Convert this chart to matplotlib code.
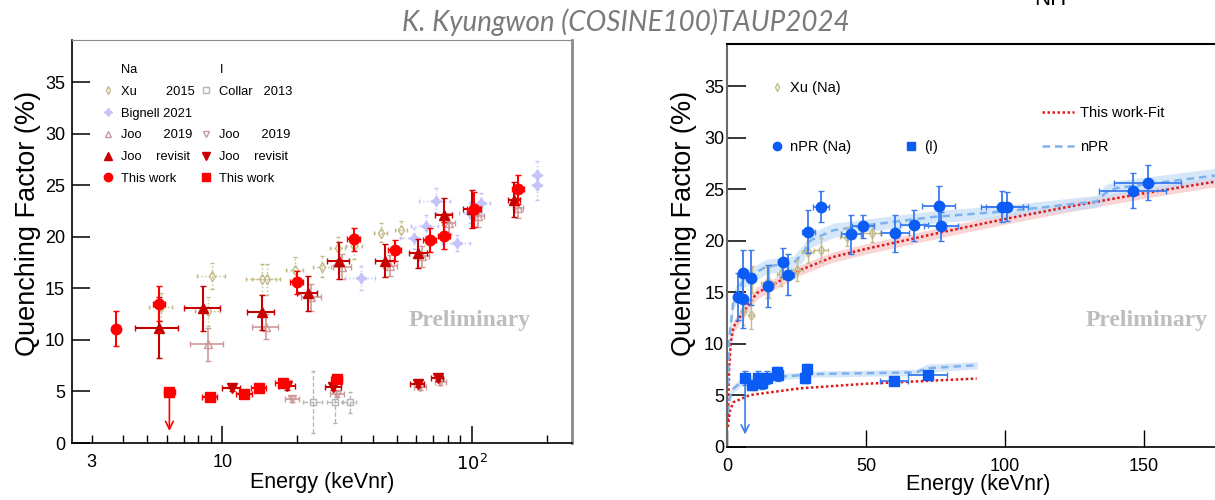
import matplotlib
matplotlib.use("Agg")
import matplotlib.pyplot as plt
from matplotlib.lines import Line2D
import numpy as np

plt.rcParams['font.family'] = ['Liberation Sans', 'DejaVu Sans']

# ---- left panel data (log energy) ----
# Na
xu_e = [5.7, 8.8, 9.1, 14.4, 15.1, 19.5, 25.2, 29.0, 33.8, 43.2, 52.1]
xu_qf = [13.2, 12.8, 16.2, 15.9, 15.9, 16.8, 17.1, 18.9, 19.1, 20.4, 20.7]
xu_xerr = [0.6, 1.0, 1.2, 2.0, 2.0, 1.5, 2.0, 2.0, 2.5, 2.5, 3.0]
xu_yerr = [1.4, 1.4, 1.3, 1.5, 1.5, 1.2, 1.0, 1.1, 1.2, 0.9, 0.8]

big_e = [36.1, 58.6, 65.3, 71.6, 87.0, 98.5, 108.6, 182.0, 182.0]
big_qf = [16.0, 19.85, 21.1, 23.5, 19.4, 22.3, 23.3, 26.0, 25.0]
big_xerr = [5, 7, 8, 10, 11, 10, 10, 3, 3]
big_yerr = [1.2, 1.0, 1.0, 1.2, 0.8, 1.0, 1.0, 1.4, 1.4]

joo19_e = [8.73, 14.96, 22.76, 30.2, 47.0, 63.4, 81.0, 105.4, 153.5]
joo19_qf = [9.57, 11.28, 14.13, 17.1, 17.2, 18.1, 21.3, 22.0, 22.8]
joo19_xerr = [1.3, 1.8, 2.0, 2.5, 3.0, 4.0, 5.0, 6.0, 7.0]
joo19_yerr = [1.6, 1.2, 1.3, 1.2, 1.0, 1.0, 1.0, 1.0, 1.0]

joorv_e = [5.56, 8.41, 14.38, 22.0, 29.3, 44.9, 60.9, 77.4, 100.6, 147.8]
joorv_qf = [11.2, 13.05, 12.7, 14.55, 17.7, 17.7, 18.4, 22.1, 22.7, 23.6]
joorv_xerr = [1.07, 1.4, 1.8, 2.0, 3.0, 4.0, 5.0, 6.0, 8.0, 8.0]
joorv_yerr = [3.0, 2.15, 1.7, 1.7, 1.8, 1.6, 1.4, 1.7, 1.8, 1.7]

tw_na_e = [3.76, 5.6, 19.9, 33.7, 49.1, 67.7, 77.4, 101.6, 153.5]
tw_na_qf = [11.1, 13.5, 15.6, 19.75, 18.7, 19.7, 20.1, 22.7, 24.6]
tw_na_xerr = [0.15, 0.3, 1.2, 2.0, 3.0, 4.0, 4.0, 6.0, 8.0]
tw_na_yerr = [1.7, 1.7, 1.1, 1.1, 1.0, 1.2, 1.3, 1.7, 1.4]

# I
collar_e = [23.1, 28.2, 32.4]
collar_qf = [3.95, 3.95, 3.95]
collar_xerr = [2.1, 2.0, 2.0]
collar_ylo = [3.0, 2.0, 1.0]
collar_yhi = [3.0, 0.8, 1.0]

joo19_i_e = [19.1, 28.9, 62.2, 74.9]
joo19_i_qf = [4.24, 4.72, 5.46, 5.95]
joo19_i_xerr = [1.2, 1.8, 3.5, 4.0]
joo19_i_yerr = [0.3, 0.3, 0.3, 0.3]

joorv_i_e = [10.9, 18.2, 27.8, 60.6, 72.9]
joorv_i_qf = [5.37, 5.53, 5.46, 5.69, 6.33]
joorv_i_xerr = [0.9, 1.3, 2.0, 4.0, 4.0]
joorv_i_yerr = [0.35, 0.35, 0.35, 0.3, 0.3]

tw_i_e = [6.14, 8.89, 12.26, 14.0, 17.5, 28.7]
tw_i_qf = [4.92, 4.46, 4.75, 5.37, 5.82, 6.2]
tw_i_xerr = [0.3, 0.6, 0.9, 1.0, 1.2, 1.5]
tw_i_yerr = [0.3, 0.3, 0.3, 0.3, 0.3, 0.35]
tw_i_limit = 0.9  # arrow end for first point

# ---- right panel data (linear energy) ----
npr_na_e = [4.07, 5.9, 5.9, 8.6, 14.6, 20.0, 22.1, 29.3, 33.8, 44.6, 48.8, 60.4, 67.4,
            76.1, 77.0, 99.0, 100.8, 145.9, 151.3]
npr_na_qf = [14.55, 16.9, 14.3, 16.4, 15.6, 17.9, 16.7, 20.85, 23.3, 20.6, 21.4, 20.7, 21.5,
             23.4, 21.4, 23.3, 23.3, 24.85, 25.6]
npr_na_xerr = [0.5, 0.6, 0.6, 0.8, 1.2, 1.5, 2.0, 2.5, 3.0, 3.5, 4.0, 5.0, 5.0,
               6.0, 6.0, 7.5, 7.5, 12.0, 12.0]
npr_na_yerr = [2.3, 2.2, 2.8, 2.7, 2.0, 1.4, 2.0, 2.1, 1.5, 1.9, 1.1, 1.8, 1.5,
               1.9, 1.4, 1.5, 1.4, 1.7, 1.7]

npr_i_e = [6.5, 9.1, 11.3, 12.5, 14.3, 17.9, 18.5, 28.1, 28.7, 60.2, 72.2]
npr_i_qf = [6.63, 5.93, 6.7, 6.2, 6.7, 7.2, 6.9, 6.7, 7.55, 6.4, 6.97]
npr_i_xerr = [0.5, 0.7, 0.8, 0.9, 1.0, 1.2, 1.2, 1.5, 1.5, 5.0, 7.0]
npr_i_yerr = [0.7, 0.4, 0.6, 0.6, 0.6, 0.5, 0.5, 0.5, 0.5, 0.3, 0.4]
npr_i_limit = 0.9

fit_na_e = [0.3, 0.8, 1.4, 2.3, 4.7, 10.7, 26, 38, 50, 62, 77, 100, 125, 150, 175, 200]
fit_na_qf = [2.5, 7.7, 10.2, 11.6, 12.6, 14.9, 17.1, 18.4, 19.2, 19.9, 20.8, 22.1, 23.4, 24.6, 25.7, 26.7]
fit_na_band = [0.6, 0.6, 0.6, 0.6, 0.6, 0.6, 0.5, 0.5, 0.5, 0.5, 0.5, 0.5, 0.5, 0.5, 0.5, 0.5]

fit_i_e = [0.3, 1.1, 2.3, 8.3, 26.3, 50.3, 89.8]
fit_i_qf = [1.9, 3.5, 4.3, 5.0, 5.65, 6.1, 6.6]

npr_na_line_e = [0.3, 0.8, 2.3, 5.9, 14.3, 23.9, 27.4, 29.9, 38.2, 50.3, 74.2, 98.2, 116, 133, 136, 140, 175, 200]
npr_na_line_qf = [6.0, 10.5, 14.2, 16.2, 17.5, 17.8, 18.8, 20.0, 21.0, 21.5, 22.3, 22.8, 23.3, 23.8, 24.6, 25.1, 26.3, 27.0]
npr_na_band = [1.2, 1.0, 0.9, 0.8, 0.7, 0.7, 0.8, 0.7, 0.7, 0.6, 0.6, 0.6, 0.6, 0.6, 0.8, 0.7, 0.7, 0.7]

npr_i_line_e = [0.3, 1.0, 2.3, 5.9, 20, 33.5, 68, 72, 90]
npr_i_line_qf = [3.2, 4.8, 5.6, 6.45, 6.8, 7.05, 7.2, 7.6, 7.9]
npr_i_band = [0.6, 0.5, 0.4, 0.35, 0.3, 0.3, 0.3, 0.4, 0.35]

RED = '#ff0000'
DRED = '#c80000'
PINK = '#cc9a9a'
KHAKI = '#c3bb8a'
LAV = '#c4c4fa'
GRAY = '#b5b5b5'
BLUE = '#0a5cf5'
EBLUE = '#3a7cf0'
LBLUE = '#7eb2ef'

fig = plt.figure(figsize=(12.15, 5.0), dpi=100)
ax1 = fig.add_axes([72 / 1215, 57 / 500, 500 / 1215, 403 / 500])
ax2 = fig.add_axes([727 / 1215, 53.5 / 500, 556 / 1215, 402.5 / 500])


def eb(ax, x, y, xerr, yerr, color, marker, ms, mfc=None, ecolor=None, ls='-', lw=1.3, z=3, cap=2.5):
    c = ax.errorbar(x, y, xerr=xerr, yerr=yerr, fmt='', marker=marker, linestyle='none',
                    color=color, ms=ms, mfc=mfc if mfc else color, mec=color,
                    ecolor=ecolor if ecolor else color,
                    elinewidth=lw, capsize=cap, capthick=lw, zorder=z, mew=1.0)
    for b in c[2]:
        b.set_linestyle(ls)
    return c


star4 = (4, 1, 0)

# left panel
eb(ax1, xu_e, xu_qf, xu_xerr, xu_yerr, KHAKI, 'd', 5, mfc='none', ls=':', lw=1.0, z=2, cap=1.5)
eb(ax1, big_e, big_qf, big_xerr, big_yerr, LAV, star4, 8, ls=':', lw=1.0, z=2, cap=1.5)
eb(ax1, collar_e, collar_qf, collar_xerr, [collar_ylo, collar_yhi], GRAY, 's', 5, mfc='none',
   ls='--', lw=0.9, z=2, cap=1.5)
eb(ax1, joo19_e, joo19_qf, joo19_xerr, joo19_yerr, PINK, '^', 6, mfc='none', lw=1.2, z=3)
eb(ax1, joo19_i_e, joo19_i_qf, joo19_i_xerr, joo19_i_yerr, PINK, 'v', 6, mfc='none', lw=1.2, z=3)
eb(ax1, joorv_e, joorv_qf, joorv_xerr, joorv_yerr, DRED, '^', 7, lw=1.5, z=4)
eb(ax1, joorv_i_e, joorv_i_qf, joorv_i_xerr, joorv_i_yerr, DRED, 'v', 7, lw=1.5, z=4)
eb(ax1, tw_na_e, tw_na_qf, tw_na_xerr, tw_na_yerr, RED, 'o', 7.5, lw=1.5, z=5)
eb(ax1, tw_i_e, tw_i_qf, tw_i_xerr, tw_i_yerr, RED, 's', 7, lw=1.5, z=5)
ax1.annotate('', xy=(tw_i_e[0], tw_i_limit), xytext=(tw_i_e[0], tw_i_qf[0]),
             arrowprops=dict(arrowstyle='->', color=RED, lw=1.2, mutation_scale=14))

ax1.set_xscale('log')
ax1.set_xlim(2.5, 252)
ax1.set_ylim(0, 39.1)
ax1.set_xticks([10, 100], labels=['10', '$10^{2}$'])
minors = [3, 4, 5, 6, 7, 8, 9, 20, 30, 40, 50, 60, 70, 80, 90, 200]
ax1.set_xticks(minors, labels=['3'] + [''] * (len(minors) - 1), minor=True)
ax1.set_yticks(range(0, 40, 5))
ax1.tick_params(axis='x', which='major', direction='in', length=12, width=1.1, labelsize=13, pad=8)
ax1.tick_params(axis='x', which='minor', direction='in', length=6, width=1.0, labelsize=13, pad=8)
ax1.tick_params(axis='y', direction='in', length=13, width=1.1, labelsize=13, pad=5)
ax1.set_xlabel('Energy (keVnr)', fontsize=15.5)
ax1.xaxis.set_label_coords(0.5, -0.072)
ax1.set_ylabel('Quenching Factor (%)', fontsize=19.5)
ax1.yaxis.set_label_coords(-0.062, 0.546)
for s in ['left', 'bottom']:
    ax1.spines[s].set_color('black')
    ax1.spines[s].set_linewidth(1.2)
ax1.spines['top'].set_color('#8a8a8a')
ax1.spines['right'].set_color('#8a8a8a')
ax1.spines['right'].set_linewidth(2)
ax1.text(0.796, 0.305, 'Preliminary', transform=ax1.transAxes, ha='center', va='center',
         fontsize=17, fontweight='bold', color='#bdbdbd', family='Liberation Serif')

blank = Line2D([], [], ls='none', marker='')
h_xu = Line2D([], [], ls='none', marker='d', ms=4, mfc='none', mec=KHAKI)
h_big = Line2D([], [], ls='none', marker=star4, ms=6, color=LAV)
h_j19 = Line2D([], [], ls='none', marker='^', ms=5, mfc='none', mec=PINK)
h_jrv = Line2D([], [], ls='none', marker='^', ms=6, color=DRED)
h_tw = Line2D([], [], ls='none', marker='o', ms=6, color=RED)
h_col = Line2D([], [], ls='none', marker='s', ms=4, mfc='none', mec=GRAY)
h_j19i = Line2D([], [], ls='none', marker='v', ms=5, mfc='none', mec=PINK)
h_jrvi = Line2D([], [], ls='none', marker='v', ms=6, color=DRED)
h_twi = Line2D([], [], ls='none', marker='s', ms=6, color=RED)
handles = [blank, h_xu, h_big, h_j19, h_jrv, h_tw, blank, h_col, blank, h_j19i, h_jrvi, h_twi]
labels = ['Na', 'Xu        2015', 'Bignell 2021', 'Joo      2019', 'Joo    revisit', 'This work',
          'I', 'Collar   2013', '', 'Joo      2019', 'Joo    revisit', 'This work']
ax1.legend(handles, labels, ncol=2, loc='upper left', bbox_to_anchor=(0.062, 0.94),
           frameon=False, fontsize=9.3, handlelength=0.8, handletextpad=0.6,
           labelspacing=0.75, columnspacing=0.5, borderpad=0, borderaxespad=0)

# right panel
ax2.fill_between(fit_na_e, np.array(fit_na_qf) - fit_na_band, np.array(fit_na_qf) + fit_na_band,
                 color='#f7c4c4', alpha=0.7, lw=0, zorder=1)
ax2.fill_between(npr_na_line_e, np.array(npr_na_line_qf) - npr_na_band,
                 np.array(npr_na_line_qf) + npr_na_band, color='#c5ddf7', alpha=0.7, lw=0, zorder=1)
ax2.fill_between(npr_i_line_e, np.array(npr_i_line_qf) - npr_i_band,
                 np.array(npr_i_line_qf) + npr_i_band, color='#c5ddf7', alpha=0.7, lw=0, zorder=1)
ax2.plot(fit_na_e, fit_na_qf, ls=(0, (1, 1)), color='#e01818', lw=1.8, zorder=2)
ax2.plot(fit_i_e, fit_i_qf, ls=(0, (1, 1)), color='#e01818', lw=1.8, zorder=2)
ax2.plot(npr_na_line_e, npr_na_line_qf, ls=(0, (3, 2)), color=LBLUE, lw=1.8, zorder=2)
ax2.plot(npr_i_line_e, npr_i_line_qf, ls=(0, (3, 2)), color=LBLUE, lw=1.8, zorder=2)

eb(ax2, xu_e, xu_qf, xu_xerr, xu_yerr, KHAKI, 'd', 5, mfc='none', lw=1.0, z=3, cap=1.5)
eb(ax2, npr_na_e, npr_na_qf, npr_na_xerr, npr_na_yerr, BLUE, 'o', 7.5, ecolor=EBLUE, lw=1.3, z=5)
eb(ax2, npr_i_e, npr_i_qf, npr_i_xerr, npr_i_yerr, BLUE, 's', 7, ecolor=EBLUE, lw=1.3, z=5)
ax2.annotate('', xy=(npr_i_e[0], npr_i_limit), xytext=(npr_i_e[0], npr_i_qf[0]),
             arrowprops=dict(arrowstyle='->', color=EBLUE, lw=1.2, mutation_scale=14))

ax2.set_xlim(0, 200)
ax2.set_ylim(0, 39.1)
ax2.set_xticks([0, 50, 100, 150])
ax2.set_yticks(range(0, 40, 5))
ax2.tick_params(axis='x', direction='in', length=12, width=1.0, labelsize=13, pad=8)
ax2.tick_params(axis='y', direction='in', length=14, width=1.1, labelsize=13, pad=2)
ax2.set_xlabel('Energy (keVnr)', fontsize=15.5)
ax2.xaxis.set_label_coords(0.451, -0.068)
ax2.set_ylabel('Quenching Factor (%)', fontsize=19.5)
ax2.yaxis.set_label_coords(-0.054, 0.553)
ax2.spines['left'].set_color('#6a6a6a')
ax2.spines['left'].set_linewidth(1.5)
ax2.spines['bottom'].set_linewidth(1.2)
ax2.spines['top'].set_linewidth(1.5)
ax2.text(0.755, 0.314, 'Preliminary', transform=ax2.transAxes, ha='center', va='center',
         fontsize=17, fontweight='bold', color='#bdbdbd', family='Liberation Serif')

leg_a = ax2.legend([Line2D([], [], ls='none', marker='d', ms=4, mfc='none', mec=KHAKI)], ['Xu (Na)'],
                   loc='center left', bbox_to_anchor=(0.077, 0.891), frameon=False, fontsize=10.5,
                   handlelength=1.0, handletextpad=0.4, borderpad=0, borderaxespad=0)
ax2.add_artist(leg_a)
leg_b = ax2.legend([Line2D([], [], ls='none', marker='o', ms=6, color=BLUE),
                    Line2D([], [], ls='none', marker='s', ms=6, color=BLUE)], ['nPR (Na)', '(I)'],
                   ncol=2, loc='center left', bbox_to_anchor=(0.077, 0.744), frameon=False,
                   fontsize=10.5, handlelength=1.0, handletextpad=0.4, columnspacing=3.6,
                   borderpad=0, borderaxespad=0)
ax2.add_artist(leg_b)
ax2.legend([Line2D([], [], ls=(0, (1, 1)), color='#e01818', lw=1.8),
            Line2D([], [], ls=(0, (3, 2)), color=LBLUE, lw=1.8)], ['This work-Fit', 'nPR'],
           loc='upper left', bbox_to_anchor=(0.566, 0.846), frameon=False, fontsize=10.5,
           handlelength=2.2, handletextpad=0.4, labelspacing=1.4, borderpad=0, borderaxespad=0)

fig.text(0.515, 0.955, 'K. Kyungwon (COSINE100)TAUP2024', ha='center', va='center',
         fontsize=20, style='italic', color='#7a7a7a',
         family=['Lato', 'Open Sans', 'DejaVu Sans'])
fig.text(1050 / 1215, 0.99, 'NH', ha='center', va='baseline', fontsize=16, color='black')

fig.savefig('out.png', dpi=100)
